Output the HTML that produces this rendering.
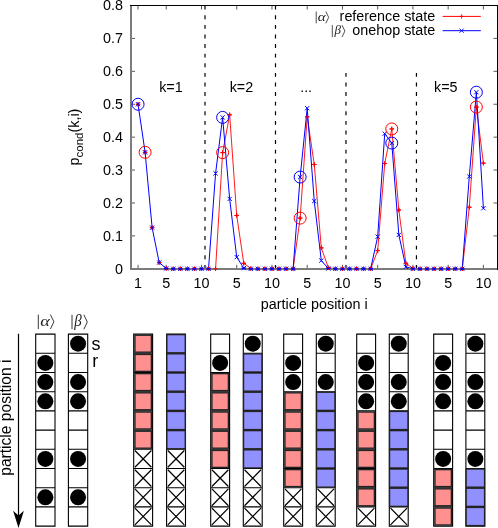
<!DOCTYPE html>
<html><head><meta charset="utf-8"><title>plot</title>
<style>html,body{margin:0;padding:0;background:#fff;}svg{display:block;will-change:transform;}</style>
</head><body>
<svg width="498" height="528" viewBox="0 0 498 528" font-family="'Liberation Sans', sans-serif" font-size="14.35" fill="#000">
<rect x="0" y="0" width="498" height="528" fill="#fff"/>
<path d="M131.00 268.80h4.0M497.50 268.80h-4.0M131.00 235.89h4.0M497.50 235.89h-4.0M131.00 202.98h4.0M497.50 202.98h-4.0M131.00 170.06h4.0M497.50 170.06h-4.0M131.00 137.15h4.0M497.50 137.15h-4.0M131.00 104.24h4.0M497.50 104.24h-4.0M131.00 71.33h4.0M497.50 71.33h-4.0M131.00 38.41h4.0M497.50 38.41h-4.0M131.00 5.50h4.0M497.50 5.50h-4.0M138.05 268.80v-4.0M138.05 5.50v4.0M166.24 268.80v-4.0M166.24 5.50v4.0M201.48 268.80v-4.0M201.48 5.50v4.0M236.72 268.80v-4.0M236.72 5.50v4.0M271.96 268.80v-4.0M271.96 5.50v4.0M307.20 268.80v-4.0M307.20 5.50v4.0M342.44 268.80v-4.0M342.44 5.50v4.0M377.68 268.80v-4.0M377.68 5.50v4.0M412.92 268.80v-4.0M412.92 5.50v4.0M448.16 268.80v-4.0M448.16 5.50v4.0M483.40 268.80v-4.0M483.40 5.50v4.0" stroke="#000" stroke-width="0.65" fill="none"/>
<line x1="205.00" y1="268.80" x2="205.00" y2="5.50" stroke="#000" stroke-width="1.2" stroke-dasharray="3.9 5.7"/>
<line x1="275.49" y1="268.80" x2="275.49" y2="5.50" stroke="#000" stroke-width="1.2" stroke-dasharray="3.9 5.7"/>
<line x1="345.97" y1="268.80" x2="345.97" y2="71.33" stroke="#000" stroke-width="1.2" stroke-dasharray="3.9 5.7"/>
<line x1="416.45" y1="268.80" x2="416.45" y2="71.33" stroke="#000" stroke-width="1.2" stroke-dasharray="3.9 5.7"/>
<polyline points="201.48,268.80 208.53,268.80 215.58,268.80 222.62,152.62 229.67,114.77 236.72,215.48 243.77,263.30 250.82,268.47 257.87,268.80 264.91,268.80 271.96,268.80 279.01,268.80 286.06,268.80 293.11,268.80 300.15,218.11 307.20,116.84 314.25,164.47 321.30,247.90 328.35,267.81 335.39,268.80 342.44,268.80 349.49,268.80 356.54,268.80 363.59,268.80 370.63,268.80 377.68,250.60 384.73,163.48 391.78,128.92 398.83,209.99 405.88,263.30 412.92,268.47 419.97,268.80 427.02,268.80 434.07,268.80 441.12,268.80 448.16,268.80 455.21,268.80 462.26,268.80 469.31,207.25 476.36,107.07 483.40,163.15" fill="none" stroke="#ff0000" stroke-width="0.9" stroke-linejoin="round"/>
<path d="M135.85 104.24h4.4M138.05 102.04v4.4M142.90 152.29h4.4M145.10 150.09v4.4M149.94 227.66h4.4M152.14 225.46v4.4M156.99 262.55h4.4M159.19 260.35v4.4M164.04 268.47h4.4M166.24 266.27v4.4M171.09 268.80h4.4M173.29 266.60v4.4M178.14 268.80h4.4M180.34 266.60v4.4M185.18 268.80h4.4M187.38 266.60v4.4M192.23 268.80h4.4M194.43 266.60v4.4M199.28 268.80h4.4M201.48 266.60v4.4M206.33 268.80h4.4M208.53 266.60v4.4M213.38 268.80h4.4M215.58 266.60v4.4M220.43 152.62h4.4M222.62 150.42v4.4M227.47 114.77h4.4M229.67 112.57v4.4M234.52 215.48h4.4M236.72 213.28v4.4M241.57 263.30h4.4M243.77 261.10v4.4M248.62 268.47h4.4M250.82 266.27v4.4M255.67 268.80h4.4M257.87 266.60v4.4M262.71 268.80h4.4M264.91 266.60v4.4M269.76 268.80h4.4M271.96 266.60v4.4M276.81 268.80h4.4M279.01 266.60v4.4M283.86 268.80h4.4M286.06 266.60v4.4M290.91 268.80h4.4M293.11 266.60v4.4M297.95 218.11h4.4M300.15 215.91v4.4M305.00 116.84h4.4M307.20 114.64v4.4M312.05 164.47h4.4M314.25 162.27v4.4M319.10 247.90h4.4M321.30 245.70v4.4M326.15 267.81h4.4M328.35 265.61v4.4M333.19 268.80h4.4M335.39 266.60v4.4M340.24 268.80h4.4M342.44 266.60v4.4M347.29 268.80h4.4M349.49 266.60v4.4M354.34 268.80h4.4M356.54 266.60v4.4M361.39 268.80h4.4M363.59 266.60v4.4M368.43 268.80h4.4M370.63 266.60v4.4M375.48 250.60h4.4M377.68 248.40v4.4M382.53 163.48h4.4M384.73 161.28v4.4M389.58 128.92h4.4M391.78 126.72v4.4M396.63 209.99h4.4M398.83 207.79v4.4M403.68 263.30h4.4M405.88 261.10v4.4M410.72 268.47h4.4M412.92 266.27v4.4M417.77 268.80h4.4M419.97 266.60v4.4M424.82 268.80h4.4M427.02 266.60v4.4M431.87 268.80h4.4M434.07 266.60v4.4M438.92 268.80h4.4M441.12 266.60v4.4M445.96 268.80h4.4M448.16 266.60v4.4M453.01 268.80h4.4M455.21 266.60v4.4M460.06 268.80h4.4M462.26 266.60v4.4M467.11 207.25h4.4M469.31 205.05v4.4M474.16 107.07h4.4M476.36 104.87v4.4M481.20 163.15h4.4M483.40 160.95v4.4" fill="none" stroke="#ff0000" stroke-width="1"/>
<polyline points="138.05,104.24 145.10,152.29 152.14,227.66 159.19,262.55 166.24,268.47 173.29,268.80 180.34,268.80 187.38,268.80 194.43,268.80 201.48,268.80 208.53,268.80 215.58,173.35 222.62,117.40 229.67,198.89 236.72,257.12 243.77,268.14 250.82,268.80 257.87,268.80 264.91,268.80 271.96,268.80 279.01,268.80 286.06,268.80 293.11,268.80 300.15,177.07 307.20,108.19 314.25,201.07 321.30,260.57 328.35,268.47 335.39,268.80 342.44,268.80 349.49,268.80 356.54,268.80 363.59,268.80 370.63,268.80 377.68,236.68 384.73,133.66 391.78,143.07 398.83,234.90 405.88,266.83 412.92,268.80 419.97,268.80 427.02,268.80 434.07,268.80 441.12,268.80 448.16,268.80 455.21,268.80 462.26,268.80 469.31,176.48 476.36,92.22 483.40,208.24" fill="none" stroke="#0000ff" stroke-width="1.0" stroke-linejoin="round"/>
<rect x="130" y="6" width="2" height="264" fill="#7c7c7c" shape-rendering="crispEdges"/>
<rect x="130" y="268" width="367" height="2" fill="#7c7c7c" shape-rendering="crispEdges"/>
<rect x="130" y="5" width="368" height="1" fill="#000" shape-rendering="crispEdges"/>
<rect x="497" y="5" width="1" height="265" fill="#000" shape-rendering="crispEdges"/>
<path d="M135.85 104.24h4.4M138.05 102.04v4.4M142.90 152.29h4.4M145.10 150.09v4.4M149.94 227.66h4.4M152.14 225.46v4.4M156.99 262.55h4.4M159.19 260.35v4.4M164.04 268.47h4.4M166.24 266.27v4.4M171.09 268.80h4.4M173.29 266.60v4.4M178.14 268.80h4.4M180.34 266.60v4.4M185.18 268.80h4.4M187.38 266.60v4.4M192.23 268.80h4.4M194.43 266.60v4.4M199.28 268.80h4.4M201.48 266.60v4.4M206.33 268.80h4.4M208.53 266.60v4.4M213.38 268.80h4.4M215.58 266.60v4.4M220.43 152.62h4.4M222.62 150.42v4.4M227.47 114.77h4.4M229.67 112.57v4.4M234.52 215.48h4.4M236.72 213.28v4.4M241.57 263.30h4.4M243.77 261.10v4.4M248.62 268.47h4.4M250.82 266.27v4.4M255.67 268.80h4.4M257.87 266.60v4.4M262.71 268.80h4.4M264.91 266.60v4.4M269.76 268.80h4.4M271.96 266.60v4.4M276.81 268.80h4.4M279.01 266.60v4.4M283.86 268.80h4.4M286.06 266.60v4.4M290.91 268.80h4.4M293.11 266.60v4.4M297.95 218.11h4.4M300.15 215.91v4.4M305.00 116.84h4.4M307.20 114.64v4.4M312.05 164.47h4.4M314.25 162.27v4.4M319.10 247.90h4.4M321.30 245.70v4.4M326.15 267.81h4.4M328.35 265.61v4.4M333.19 268.80h4.4M335.39 266.60v4.4M340.24 268.80h4.4M342.44 266.60v4.4M347.29 268.80h4.4M349.49 266.60v4.4M354.34 268.80h4.4M356.54 266.60v4.4M361.39 268.80h4.4M363.59 266.60v4.4M368.43 268.80h4.4M370.63 266.60v4.4M375.48 250.60h4.4M377.68 248.40v4.4M382.53 163.48h4.4M384.73 161.28v4.4M389.58 128.92h4.4M391.78 126.72v4.4M396.63 209.99h4.4M398.83 207.79v4.4M403.68 263.30h4.4M405.88 261.10v4.4M410.72 268.47h4.4M412.92 266.27v4.4M417.77 268.80h4.4M419.97 266.60v4.4M424.82 268.80h4.4M427.02 266.60v4.4M431.87 268.80h4.4M434.07 266.60v4.4M438.92 268.80h4.4M441.12 266.60v4.4M445.96 268.80h4.4M448.16 266.60v4.4M453.01 268.80h4.4M455.21 266.60v4.4M460.06 268.80h4.4M462.26 266.60v4.4M467.11 207.25h4.4M469.31 205.05v4.4M474.16 107.07h4.4M476.36 104.87v4.4M481.20 163.15h4.4M483.40 160.95v4.4" fill="none" stroke="#ff0000" stroke-width="1"/>
<path d="M164.04 268.47h4.4M171.09 268.80h4.4M178.14 268.80h4.4M185.18 268.80h4.4M192.23 268.80h4.4M199.28 268.80h4.4M206.33 268.80h4.4M241.57 268.14h4.4M248.62 268.80h4.4M255.67 268.80h4.4M262.71 268.80h4.4M269.76 268.80h4.4M276.81 268.80h4.4M283.86 268.80h4.4M290.91 268.80h4.4M326.15 268.47h4.4M333.19 268.80h4.4M340.24 268.80h4.4M347.29 268.80h4.4M354.34 268.80h4.4M361.39 268.80h4.4M368.43 268.80h4.4M410.72 268.80h4.4M417.77 268.80h4.4M424.82 268.80h4.4M431.87 268.80h4.4M438.92 268.80h4.4M445.96 268.80h4.4M453.01 268.80h4.4M460.06 268.80h4.4" fill="none" stroke="#0000ff" stroke-width="1.2"/>
<path d="M135.95 102.14l4.2 4.2M135.95 106.34l4.2 -4.2M143.00 150.19l4.2 4.2M143.00 154.39l4.2 -4.2M150.04 225.56l4.2 4.2M150.04 229.76l4.2 -4.2M157.09 260.45l4.2 4.2M157.09 264.65l4.2 -4.2M164.14 266.37l4.2 4.2M164.14 270.57l4.2 -4.2M171.19 266.70l4.2 4.2M171.19 270.90l4.2 -4.2M178.24 266.70l4.2 4.2M178.24 270.90l4.2 -4.2M185.28 266.70l4.2 4.2M185.28 270.90l4.2 -4.2M192.33 266.70l4.2 4.2M192.33 270.90l4.2 -4.2M199.38 266.70l4.2 4.2M199.38 270.90l4.2 -4.2M206.43 266.70l4.2 4.2M206.43 270.90l4.2 -4.2M213.48 171.25l4.2 4.2M213.48 175.45l4.2 -4.2M220.53 115.30l4.2 4.2M220.53 119.50l4.2 -4.2M227.57 196.79l4.2 4.2M227.57 200.99l4.2 -4.2M234.62 255.02l4.2 4.2M234.62 259.22l4.2 -4.2M241.67 266.04l4.2 4.2M241.67 270.24l4.2 -4.2M248.72 266.70l4.2 4.2M248.72 270.90l4.2 -4.2M255.77 266.70l4.2 4.2M255.77 270.90l4.2 -4.2M262.81 266.70l4.2 4.2M262.81 270.90l4.2 -4.2M269.86 266.70l4.2 4.2M269.86 270.90l4.2 -4.2M276.91 266.70l4.2 4.2M276.91 270.90l4.2 -4.2M283.96 266.70l4.2 4.2M283.96 270.90l4.2 -4.2M291.01 266.70l4.2 4.2M291.01 270.90l4.2 -4.2M298.05 174.97l4.2 4.2M298.05 179.17l4.2 -4.2M305.10 106.09l4.2 4.2M305.10 110.29l4.2 -4.2M312.15 198.97l4.2 4.2M312.15 203.17l4.2 -4.2M319.20 258.47l4.2 4.2M319.20 262.67l4.2 -4.2M326.25 266.37l4.2 4.2M326.25 270.57l4.2 -4.2M333.29 266.70l4.2 4.2M333.29 270.90l4.2 -4.2M340.34 266.70l4.2 4.2M340.34 270.90l4.2 -4.2M347.39 266.70l4.2 4.2M347.39 270.90l4.2 -4.2M354.44 266.70l4.2 4.2M354.44 270.90l4.2 -4.2M361.49 266.70l4.2 4.2M361.49 270.90l4.2 -4.2M368.53 266.70l4.2 4.2M368.53 270.90l4.2 -4.2M375.58 234.58l4.2 4.2M375.58 238.78l4.2 -4.2M382.63 131.56l4.2 4.2M382.63 135.76l4.2 -4.2M389.68 140.97l4.2 4.2M389.68 145.17l4.2 -4.2M396.73 232.80l4.2 4.2M396.73 237.00l4.2 -4.2M403.77 264.73l4.2 4.2M403.77 268.93l4.2 -4.2M410.82 266.70l4.2 4.2M410.82 270.90l4.2 -4.2M417.87 266.70l4.2 4.2M417.87 270.90l4.2 -4.2M424.92 266.70l4.2 4.2M424.92 270.90l4.2 -4.2M431.97 266.70l4.2 4.2M431.97 270.90l4.2 -4.2M439.02 266.70l4.2 4.2M439.02 270.90l4.2 -4.2M446.06 266.70l4.2 4.2M446.06 270.90l4.2 -4.2M453.11 266.70l4.2 4.2M453.11 270.90l4.2 -4.2M460.16 266.70l4.2 4.2M460.16 270.90l4.2 -4.2M467.21 174.38l4.2 4.2M467.21 178.58l4.2 -4.2M474.26 90.12l4.2 4.2M474.26 94.32l4.2 -4.2M481.30 206.14l4.2 4.2M481.30 210.34l4.2 -4.2" fill="none" stroke="#0000ff" stroke-width="1"/>
<circle cx="145.10" cy="152.29" r="6.0" fill="none" stroke="#ff0000" stroke-width="1"/>
<circle cx="222.62" cy="152.62" r="6.0" fill="none" stroke="#ff0000" stroke-width="1"/>
<circle cx="300.15" cy="218.11" r="6.0" fill="none" stroke="#ff0000" stroke-width="1"/>
<circle cx="391.78" cy="128.92" r="6.0" fill="none" stroke="#ff0000" stroke-width="1"/>
<circle cx="476.36" cy="107.07" r="6.0" fill="none" stroke="#ff0000" stroke-width="1"/>
<circle cx="138.05" cy="104.24" r="6.0" fill="none" stroke="#0000ff" stroke-width="1"/>
<circle cx="222.62" cy="117.40" r="6.0" fill="none" stroke="#0000ff" stroke-width="1"/>
<circle cx="300.15" cy="177.07" r="6.0" fill="none" stroke="#0000ff" stroke-width="1"/>
<circle cx="391.78" cy="143.07" r="6.0" fill="none" stroke="#0000ff" stroke-width="1"/>
<circle cx="476.36" cy="92.22" r="6.0" fill="none" stroke="#0000ff" stroke-width="1"/>
<text x="123.0" y="273.80" text-anchor="end">0</text>
<text x="123.0" y="240.89" text-anchor="end">0.1</text>
<text x="123.0" y="207.98" text-anchor="end">0.2</text>
<text x="123.0" y="175.06" text-anchor="end">0.3</text>
<text x="123.0" y="142.15" text-anchor="end">0.4</text>
<text x="123.0" y="109.24" text-anchor="end">0.5</text>
<text x="123.0" y="76.33" text-anchor="end">0.6</text>
<text x="123.0" y="43.41" text-anchor="end">0.7</text>
<text x="123.0" y="9.60" text-anchor="end">0.8</text>
<text x="138.05" y="287.6" text-anchor="middle">1</text>
<text x="166.24" y="287.6" text-anchor="middle">5</text>
<text x="201.48" y="287.6" text-anchor="middle">10</text>
<text x="236.72" y="287.6" text-anchor="middle">5</text>
<text x="271.96" y="287.6" text-anchor="middle">10</text>
<text x="307.20" y="287.6" text-anchor="middle">5</text>
<text x="342.44" y="287.6" text-anchor="middle">10</text>
<text x="377.68" y="287.6" text-anchor="middle">5</text>
<text x="412.92" y="287.6" text-anchor="middle">10</text>
<text x="448.16" y="287.6" text-anchor="middle">5</text>
<text x="483.40" y="287.6" text-anchor="middle">10</text>
<text x="314.25" y="309.4" text-anchor="middle">particle position i</text>
<text transform="translate(79 137) rotate(-90)" text-anchor="middle">p<tspan font-size="11.48" dy="3.5">cond</tspan><tspan dy="-3.5">(k,i)</tspan></text>
<text x="159.19" y="92.4">k=1</text>
<text x="229.67" y="92.4">k=2</text>
<text x="300.15" y="92.4">...</text>
<text x="434.07" y="92.4">k=5</text>
<text x="435.3" y="20.8" text-anchor="end">reference state</text>
<text x="435.3" y="35.2" text-anchor="end">onehop state</text>
<path d="M442.6 16.4H480.8" stroke="#ff0000" stroke-width="1" fill="none"/>
<path d="M459.40 16.40h4.4M461.60 14.20v4.4" stroke="#ff0000" stroke-width="0.9" fill="none"/>
<path d="M442.6 30.7H480.8" stroke="#0000ff" stroke-width="1" fill="none"/>
<path d="M459.50 28.60l4.2 4.2M459.50 32.80l4.2 -4.2" stroke="#0000ff" stroke-width="0.9" fill="none"/>
<path d="M316.20 11.50V23.30M325.80 11.50L328.70 17.40L325.80 23.30" fill="none" stroke="#222" stroke-width="0.8"/>
<text transform="translate(317.80 21.00) scale(1.2 1)" font-family="'Liberation Serif', serif" font-style="italic" font-size="12.6" fill="#222">&#945;</text>
<path d="M332.30 25.10V37.10M342.00 25.10L344.90 31.10L342.00 37.10" fill="none" stroke="#222" stroke-width="0.8"/>
<text transform="translate(334.40 34.40) scale(1.0 1)" font-family="'Liberation Serif', serif" font-style="italic" font-size="13.0" fill="#222">&#946;</text>
<path d="M35.70 334.10H55.00V526.10H35.70ZM35.70 353.30H55.00M35.70 372.50H55.00M35.70 391.70H55.00M35.70 410.90H55.00M35.70 430.10H55.00M35.70 449.30H55.00M35.70 468.50H55.00M35.70 487.70H55.00M35.70 506.90H55.00" fill="#fff" stroke="#000" stroke-width="1.1"/>
<circle cx="45.35" cy="362.90" r="8" fill="#000"/>
<circle cx="45.35" cy="382.10" r="8" fill="#000"/>
<circle cx="45.35" cy="401.30" r="8" fill="#000"/>
<circle cx="45.35" cy="458.90" r="8" fill="#000"/>
<circle cx="45.35" cy="497.30" r="8" fill="#000"/>
<path d="M68.40 334.10H87.70V526.10H68.40ZM68.40 353.30H87.70M68.40 372.50H87.70M68.40 391.70H87.70M68.40 410.90H87.70M68.40 430.10H87.70M68.40 449.30H87.70M68.40 468.50H87.70M68.40 487.70H87.70M68.40 506.90H87.70" fill="#fff" stroke="#000" stroke-width="1.1"/>
<circle cx="78.05" cy="343.70" r="8" fill="#000"/>
<circle cx="78.05" cy="382.10" r="8" fill="#000"/>
<circle cx="78.05" cy="401.30" r="8" fill="#000"/>
<circle cx="78.05" cy="458.90" r="8" fill="#000"/>
<circle cx="78.05" cy="497.30" r="8" fill="#000"/>
<path d="M133.70 334.10H152.60V526.10H133.70ZM133.70 353.30H152.60M133.70 372.50H152.60M133.70 391.70H152.60M133.70 410.90H152.60M133.70 430.10H152.60M133.70 449.30H152.60M133.70 468.50H152.60M133.70 487.70H152.60M133.70 506.90H152.60" fill="#fff" stroke="#000" stroke-width="1.1"/>
<rect x="134.90" y="335.20" width="16.50" height="17.00" fill="#ff9090" stroke="#222" stroke-width="1.4"/>
<rect x="134.90" y="354.40" width="16.50" height="17.00" fill="#ff9090" stroke="#222" stroke-width="1.4"/>
<rect x="134.90" y="373.60" width="16.50" height="17.00" fill="#ff9090" stroke="#222" stroke-width="1.4"/>
<rect x="134.90" y="392.80" width="16.50" height="17.00" fill="#ff9090" stroke="#222" stroke-width="1.4"/>
<rect x="134.90" y="412.00" width="16.50" height="17.00" fill="#ff9090" stroke="#222" stroke-width="1.4"/>
<rect x="134.90" y="431.20" width="16.50" height="17.00" fill="#ff9090" stroke="#222" stroke-width="1.4"/>
<path d="M134.90 450.50L151.40 467.30M134.90 467.30L151.40 450.50" stroke="#000" stroke-width="1.25" fill="none"/>
<path d="M134.90 469.70L151.40 486.50M134.90 486.50L151.40 469.70" stroke="#000" stroke-width="1.25" fill="none"/>
<path d="M134.90 488.90L151.40 505.70M134.90 505.70L151.40 488.90" stroke="#000" stroke-width="1.25" fill="none"/>
<path d="M134.90 508.10L151.40 524.90M134.90 524.90L151.40 508.10" stroke="#000" stroke-width="1.25" fill="none"/>
<path d="M166.60 334.10H185.50V526.10H166.60ZM166.60 353.30H185.50M166.60 372.50H185.50M166.60 391.70H185.50M166.60 410.90H185.50M166.60 430.10H185.50M166.60 449.30H185.50M166.60 468.50H185.50M166.60 487.70H185.50M166.60 506.90H185.50" fill="#fff" stroke="#000" stroke-width="1.1"/>
<rect x="166.85" y="334.65" width="18.40" height="18.10" fill="#9090ff" stroke="#222" stroke-width="1.3"/>
<rect x="166.85" y="353.85" width="18.40" height="18.10" fill="#9090ff" stroke="#222" stroke-width="1.3"/>
<rect x="166.85" y="373.05" width="18.40" height="18.10" fill="#9090ff" stroke="#222" stroke-width="1.3"/>
<rect x="166.85" y="392.25" width="18.40" height="18.10" fill="#9090ff" stroke="#222" stroke-width="1.3"/>
<rect x="166.85" y="411.45" width="18.40" height="18.10" fill="#9090ff" stroke="#222" stroke-width="1.3"/>
<rect x="166.85" y="430.65" width="18.40" height="18.10" fill="#9090ff" stroke="#222" stroke-width="1.3"/>
<path d="M167.80 450.50L184.30 467.30M167.80 467.30L184.30 450.50" stroke="#000" stroke-width="1.25" fill="none"/>
<path d="M167.80 469.70L184.30 486.50M167.80 486.50L184.30 469.70" stroke="#000" stroke-width="1.25" fill="none"/>
<path d="M167.80 488.90L184.30 505.70M167.80 505.70L184.30 488.90" stroke="#000" stroke-width="1.25" fill="none"/>
<path d="M167.80 508.10L184.30 524.90M167.80 524.90L184.30 508.10" stroke="#000" stroke-width="1.25" fill="none"/>
<path d="M210.70 334.10H229.60V526.10H210.70ZM210.70 353.30H229.60M210.70 372.50H229.60M210.70 391.70H229.60M210.70 410.90H229.60M210.70 430.10H229.60M210.70 449.30H229.60M210.70 468.50H229.60M210.70 487.70H229.60M210.70 506.90H229.60" fill="#fff" stroke="#000" stroke-width="1.1"/>
<circle cx="220.15" cy="362.90" r="8" fill="#000"/>
<rect x="211.90" y="373.60" width="16.50" height="17.00" fill="#ff9090" stroke="#222" stroke-width="1.4"/>
<rect x="211.90" y="392.80" width="16.50" height="17.00" fill="#ff9090" stroke="#222" stroke-width="1.4"/>
<rect x="211.90" y="412.00" width="16.50" height="17.00" fill="#ff9090" stroke="#222" stroke-width="1.4"/>
<rect x="211.90" y="431.20" width="16.50" height="17.00" fill="#ff9090" stroke="#222" stroke-width="1.4"/>
<rect x="211.90" y="450.40" width="16.50" height="17.00" fill="#ff9090" stroke="#222" stroke-width="1.4"/>
<path d="M211.90 469.70L228.40 486.50M211.90 486.50L228.40 469.70" stroke="#000" stroke-width="1.25" fill="none"/>
<path d="M211.90 488.90L228.40 505.70M211.90 505.70L228.40 488.90" stroke="#000" stroke-width="1.25" fill="none"/>
<path d="M211.90 508.10L228.40 524.90M211.90 524.90L228.40 508.10" stroke="#000" stroke-width="1.25" fill="none"/>
<path d="M243.30 334.10H262.20V526.10H243.30ZM243.30 353.30H262.20M243.30 372.50H262.20M243.30 391.70H262.20M243.30 410.90H262.20M243.30 430.10H262.20M243.30 449.30H262.20M243.30 468.50H262.20M243.30 487.70H262.20M243.30 506.90H262.20" fill="#fff" stroke="#000" stroke-width="1.1"/>
<circle cx="252.75" cy="343.70" r="8" fill="#000"/>
<rect x="243.55" y="353.85" width="18.40" height="18.10" fill="#9090ff" stroke="#222" stroke-width="1.3"/>
<rect x="243.55" y="373.05" width="18.40" height="18.10" fill="#9090ff" stroke="#222" stroke-width="1.3"/>
<rect x="243.55" y="392.25" width="18.40" height="18.10" fill="#9090ff" stroke="#222" stroke-width="1.3"/>
<rect x="243.55" y="411.45" width="18.40" height="18.10" fill="#9090ff" stroke="#222" stroke-width="1.3"/>
<rect x="243.55" y="430.65" width="18.40" height="18.10" fill="#9090ff" stroke="#222" stroke-width="1.3"/>
<rect x="243.55" y="449.85" width="18.40" height="18.10" fill="#9090ff" stroke="#222" stroke-width="1.3"/>
<path d="M244.50 469.70L261.00 486.50M244.50 486.50L261.00 469.70" stroke="#000" stroke-width="1.25" fill="none"/>
<path d="M244.50 488.90L261.00 505.70M244.50 505.70L261.00 488.90" stroke="#000" stroke-width="1.25" fill="none"/>
<path d="M244.50 508.10L261.00 524.90M244.50 524.90L261.00 508.10" stroke="#000" stroke-width="1.25" fill="none"/>
<path d="M283.70 334.10H302.60V526.10H283.70ZM283.70 353.30H302.60M283.70 372.50H302.60M283.70 391.70H302.60M283.70 410.90H302.60M283.70 430.10H302.60M283.70 449.30H302.60M283.70 468.50H302.60M283.70 487.70H302.60M283.70 506.90H302.60" fill="#fff" stroke="#000" stroke-width="1.1"/>
<circle cx="293.15" cy="362.90" r="8" fill="#000"/>
<circle cx="293.15" cy="382.10" r="8" fill="#000"/>
<rect x="284.90" y="392.80" width="16.50" height="17.00" fill="#ff9090" stroke="#222" stroke-width="1.4"/>
<rect x="284.90" y="412.00" width="16.50" height="17.00" fill="#ff9090" stroke="#222" stroke-width="1.4"/>
<rect x="284.90" y="431.20" width="16.50" height="17.00" fill="#ff9090" stroke="#222" stroke-width="1.4"/>
<rect x="284.90" y="450.40" width="16.50" height="17.00" fill="#ff9090" stroke="#222" stroke-width="1.4"/>
<rect x="284.90" y="469.60" width="16.50" height="17.00" fill="#ff9090" stroke="#222" stroke-width="1.4"/>
<path d="M284.90 488.90L301.40 505.70M284.90 505.70L301.40 488.90" stroke="#000" stroke-width="1.25" fill="none"/>
<path d="M284.90 508.10L301.40 524.90M284.90 524.90L301.40 508.10" stroke="#000" stroke-width="1.25" fill="none"/>
<path d="M316.30 334.10H335.20V526.10H316.30ZM316.30 353.30H335.20M316.30 372.50H335.20M316.30 391.70H335.20M316.30 410.90H335.20M316.30 430.10H335.20M316.30 449.30H335.20M316.30 468.50H335.20M316.30 487.70H335.20M316.30 506.90H335.20" fill="#fff" stroke="#000" stroke-width="1.1"/>
<circle cx="325.75" cy="343.70" r="8" fill="#000"/>
<circle cx="325.75" cy="382.10" r="8" fill="#000"/>
<rect x="316.55" y="392.25" width="18.40" height="18.10" fill="#9090ff" stroke="#222" stroke-width="1.3"/>
<rect x="316.55" y="411.45" width="18.40" height="18.10" fill="#9090ff" stroke="#222" stroke-width="1.3"/>
<rect x="316.55" y="430.65" width="18.40" height="18.10" fill="#9090ff" stroke="#222" stroke-width="1.3"/>
<rect x="316.55" y="449.85" width="18.40" height="18.10" fill="#9090ff" stroke="#222" stroke-width="1.3"/>
<rect x="316.55" y="469.05" width="18.40" height="18.10" fill="#9090ff" stroke="#222" stroke-width="1.3"/>
<path d="M317.50 488.90L334.00 505.70M317.50 505.70L334.00 488.90" stroke="#000" stroke-width="1.25" fill="none"/>
<path d="M317.50 508.10L334.00 524.90M317.50 524.90L334.00 508.10" stroke="#000" stroke-width="1.25" fill="none"/>
<path d="M356.70 334.10H375.60V526.10H356.70ZM356.70 353.30H375.60M356.70 372.50H375.60M356.70 391.70H375.60M356.70 410.90H375.60M356.70 430.10H375.60M356.70 449.30H375.60M356.70 468.50H375.60M356.70 487.70H375.60M356.70 506.90H375.60" fill="#fff" stroke="#000" stroke-width="1.1"/>
<circle cx="366.15" cy="362.90" r="8" fill="#000"/>
<circle cx="366.15" cy="382.10" r="8" fill="#000"/>
<circle cx="366.15" cy="401.30" r="8" fill="#000"/>
<rect x="357.90" y="412.00" width="16.50" height="17.00" fill="#ff9090" stroke="#222" stroke-width="1.4"/>
<rect x="357.90" y="431.20" width="16.50" height="17.00" fill="#ff9090" stroke="#222" stroke-width="1.4"/>
<rect x="357.90" y="450.40" width="16.50" height="17.00" fill="#ff9090" stroke="#222" stroke-width="1.4"/>
<rect x="357.90" y="469.60" width="16.50" height="17.00" fill="#ff9090" stroke="#222" stroke-width="1.4"/>
<rect x="357.90" y="488.80" width="16.50" height="17.00" fill="#ff9090" stroke="#222" stroke-width="1.4"/>
<path d="M357.90 508.10L374.40 524.90M357.90 524.90L374.40 508.10" stroke="#000" stroke-width="1.25" fill="none"/>
<path d="M389.30 334.10H408.20V526.10H389.30ZM389.30 353.30H408.20M389.30 372.50H408.20M389.30 391.70H408.20M389.30 410.90H408.20M389.30 430.10H408.20M389.30 449.30H408.20M389.30 468.50H408.20M389.30 487.70H408.20M389.30 506.90H408.20" fill="#fff" stroke="#000" stroke-width="1.1"/>
<circle cx="398.75" cy="343.70" r="8" fill="#000"/>
<circle cx="398.75" cy="382.10" r="8" fill="#000"/>
<circle cx="398.75" cy="401.30" r="8" fill="#000"/>
<rect x="389.55" y="411.45" width="18.40" height="18.10" fill="#9090ff" stroke="#222" stroke-width="1.3"/>
<rect x="389.55" y="430.65" width="18.40" height="18.10" fill="#9090ff" stroke="#222" stroke-width="1.3"/>
<rect x="389.55" y="449.85" width="18.40" height="18.10" fill="#9090ff" stroke="#222" stroke-width="1.3"/>
<rect x="389.55" y="469.05" width="18.40" height="18.10" fill="#9090ff" stroke="#222" stroke-width="1.3"/>
<rect x="389.55" y="488.25" width="18.40" height="18.10" fill="#9090ff" stroke="#222" stroke-width="1.3"/>
<path d="M390.50 508.10L407.00 524.90M390.50 524.90L407.00 508.10" stroke="#000" stroke-width="1.25" fill="none"/>
<path d="M433.70 334.10H452.60V526.10H433.70ZM433.70 353.30H452.60M433.70 372.50H452.60M433.70 391.70H452.60M433.70 410.90H452.60M433.70 430.10H452.60M433.70 449.30H452.60M433.70 468.50H452.60M433.70 487.70H452.60M433.70 506.90H452.60" fill="#fff" stroke="#000" stroke-width="1.1"/>
<circle cx="443.15" cy="362.90" r="8" fill="#000"/>
<circle cx="443.15" cy="382.10" r="8" fill="#000"/>
<circle cx="443.15" cy="401.30" r="8" fill="#000"/>
<circle cx="443.15" cy="458.90" r="8" fill="#000"/>
<rect x="434.90" y="469.60" width="16.50" height="17.00" fill="#ff9090" stroke="#222" stroke-width="1.4"/>
<rect x="434.90" y="488.80" width="16.50" height="17.00" fill="#ff9090" stroke="#222" stroke-width="1.4"/>
<rect x="434.90" y="508.00" width="16.50" height="17.00" fill="#ff9090" stroke="#222" stroke-width="1.4"/>
<path d="M465.90 334.10H484.80V526.10H465.90ZM465.90 353.30H484.80M465.90 372.50H484.80M465.90 391.70H484.80M465.90 410.90H484.80M465.90 430.10H484.80M465.90 449.30H484.80M465.90 468.50H484.80M465.90 487.70H484.80M465.90 506.90H484.80" fill="#fff" stroke="#000" stroke-width="1.1"/>
<circle cx="475.35" cy="343.70" r="8" fill="#000"/>
<circle cx="475.35" cy="382.10" r="8" fill="#000"/>
<circle cx="475.35" cy="401.30" r="8" fill="#000"/>
<circle cx="475.35" cy="458.90" r="8" fill="#000"/>
<rect x="466.15" y="469.05" width="18.40" height="18.10" fill="#9090ff" stroke="#222" stroke-width="1.3"/>
<rect x="466.15" y="488.25" width="18.40" height="18.10" fill="#9090ff" stroke="#222" stroke-width="1.3"/>
<rect x="466.15" y="507.45" width="18.40" height="18.10" fill="#9090ff" stroke="#222" stroke-width="1.3"/>
<path d="M38.30 314.60V329.00M50.40 314.60L53.90 321.80L50.40 329.00" fill="none" stroke="#222" stroke-width="0.9"/>
<text transform="translate(40.20 326.00) scale(1.22 1)" font-family="'Liberation Serif', serif" font-style="italic" font-size="15.0" fill="#222">&#945;</text>
<path d="M72.00 314.80V329.20M83.90 314.80L87.30 322.00L83.90 329.20" fill="none" stroke="#222" stroke-width="0.9"/>
<text transform="translate(74.20 325.80) scale(0.95 1)" font-family="'Liberation Serif', serif" font-style="italic" font-size="15.8" fill="#222">&#946;</text>
<text x="91.5" y="349.6" font-size="18">s</text>
<text x="92.3" y="366.8" font-size="18">r</text>
<path d="M18.5 333.7V517" stroke="#000" stroke-width="1.2" fill="none"/>
<path d="M18.5 527.9L13.1 510.8L18.5 515.6L23.9 510.8Z" fill="#000"/>
<text transform="translate(11.4 417.7) rotate(-90)" text-anchor="middle" font-size="15.6">particle position i</text>
</svg>
</body></html>
